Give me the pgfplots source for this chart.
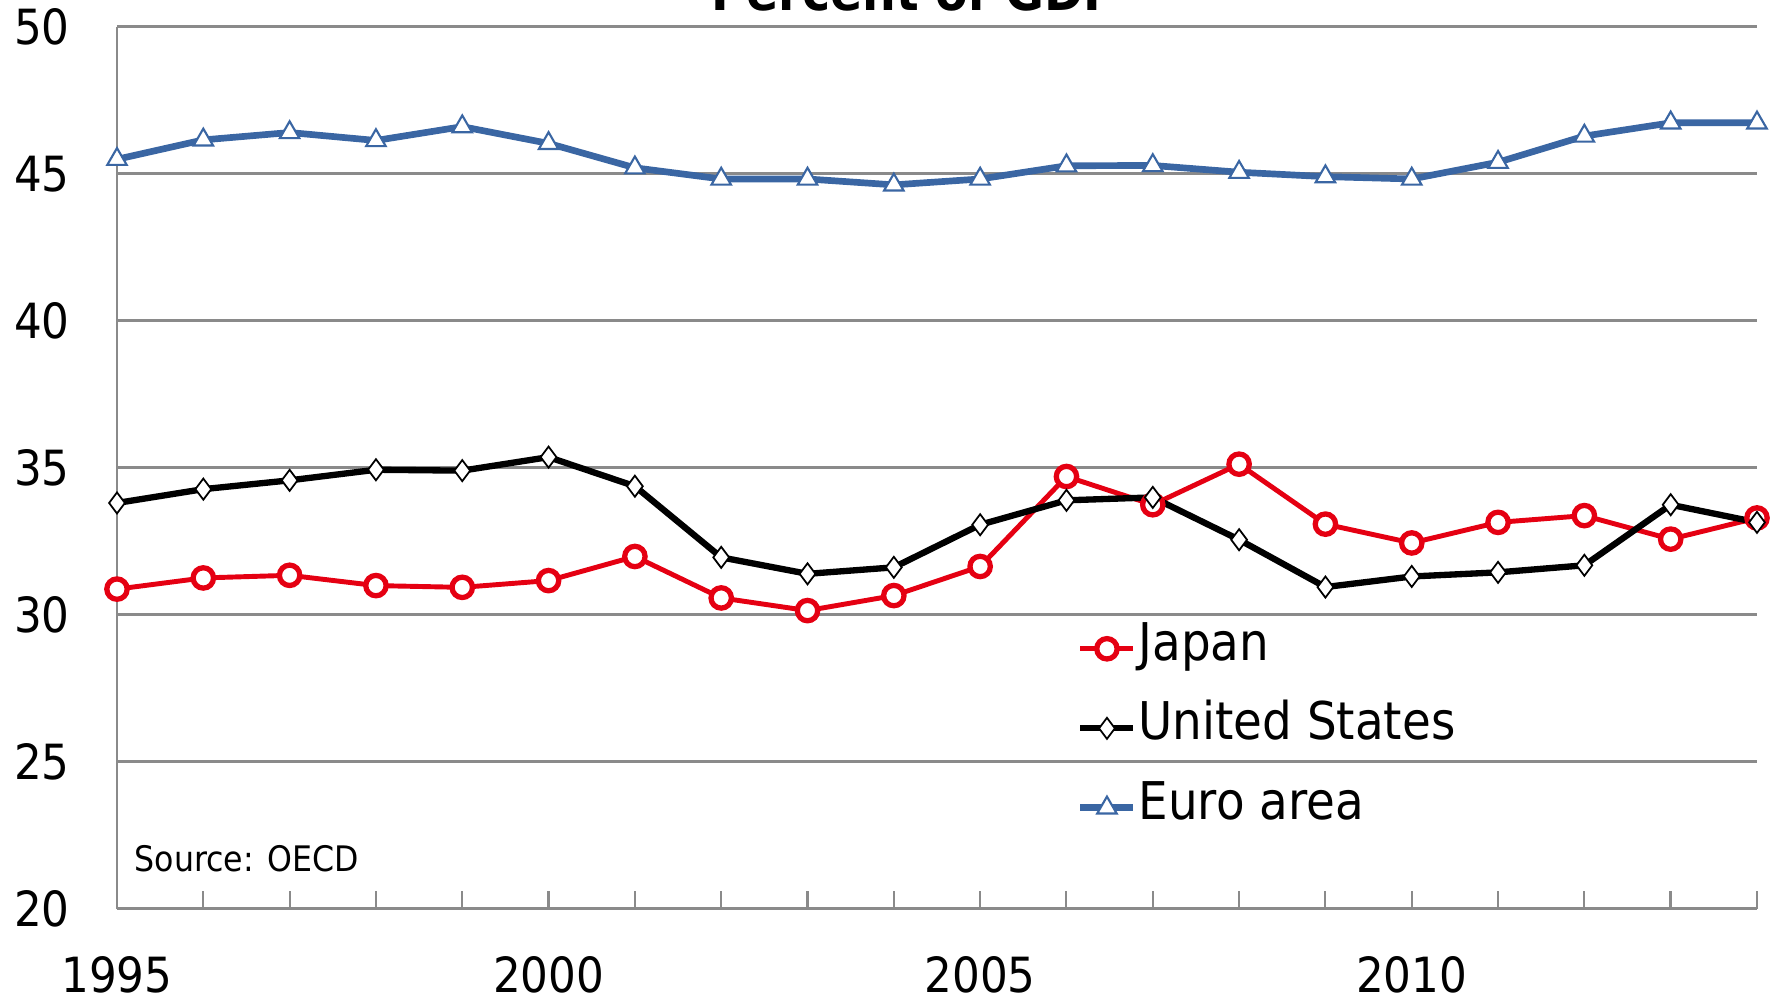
\documentclass[border=0pt]{standalone}
\usepackage{fontspec}
\setmainfont{DejaVu Sans}[FakeStretch=0.9]
\usepackage{pgfplots}
\pgfplotsset{compat=1.18}
\definecolor{eublue}{HTML}{3A66A3}
\definecolor{jpred}{HTML}{E50012}
\definecolor{gridgray}{HTML}{8A8A8A}

\begin{document}
\begin{tikzpicture}
\begin{axis}[
  name=ax,
  scale only axis, width=16.40cm, height=8.82cm,
  xmin=1995, xmax=2014, ymin=20, ymax=50,
  xtick={1995,2000,2005,2010},
  minor xtick={1995,...,2014},
  ytick={20,25,...,50},
  axis x line*=bottom, axis y line*=left,
  axis line style={draw=gridgray, line width=0.7pt},
  ymajorgrids, grid style={draw=gridgray, line width=0.7pt},
  tick align=inside,
  major tick length=0.18cm, minor tick length=0.18cm,
  xtick style={draw=gridgray, line width=0.6pt},
  ytick style={draw=none},
  tick label style={font=\fontsize{13.8}{16}\selectfont},
  /pgf/number format/assume math mode=true,
  xticklabel style={/pgf/number format/1000 sep={}, yshift=-0.35cm},
  yticklabel style={xshift=-0.35cm},
  clip=false,
  legend style={draw=none, fill=none, at={(0.585,0.3275)}, anchor=north west,
    font=\fontsize{14.8}{17}\selectfont, row sep=0.23cm, inner sep=0pt,
    nodes={text height=0.38cm, text depth=0.15cm, inner sep=0.5pt}},
  legend cell align=left,
  legend image code/.code={\draw[mark repeat=2, mark phase=2]
    plot coordinates {(0cm,0cm) (0.265cm,0cm) (0.53cm,0cm)};},
]
% Japan
\addplot[color=jpred, line width=1.4pt, mark=*,
  mark options={fill=white, draw=jpred, line width=1.5pt}, mark size=2.9pt]
coordinates {
(1995,30.87) (1996,31.25) (1997,31.34) (1998,30.99) (1999,30.93)
(2000,31.16) (2001,31.98) (2002,30.57) (2003,30.14) (2004,30.65)
(2005,31.64) (2006,34.70) (2007,33.74) (2008,35.12) (2009,33.08)
(2010,32.44) (2011,33.14) (2012,33.37) (2013,32.57) (2014,33.29)
};
\addlegendentry{Japan}
% United States
\addplot[color=black, line width=1.8pt, mark=diamond*,
  mark options={fill=white, draw=black, line width=0.5pt}, mark size=3pt]
coordinates {
(1995,33.80) (1996,34.27) (1997,34.57) (1998,34.93) (1999,34.90)
(2000,35.36) (2001,34.37) (2002,31.95) (2003,31.39) (2004,31.61)
(2005,33.06) (2006,33.89) (2007,33.99) (2008,32.55) (2009,30.94)
(2010,31.30) (2011,31.44) (2012,31.68) (2013,33.74) (2014,33.14)
};
\addlegendentry{United States}
% Euro area
\addplot[color=eublue, line width=1.9pt, mark=triangle*,
  mark options={fill=white, draw=eublue, line width=0.6pt}, mark size=3.2pt]
coordinates {
(1995,45.49) (1996,46.15) (1997,46.40) (1998,46.13) (1999,46.60)
(2000,46.03) (2001,45.20) (2002,44.82) (2003,44.82) (2004,44.62)
(2005,44.82) (2006,45.27) (2007,45.28) (2008,45.05) (2009,44.90)
(2010,44.82) (2011,45.39) (2012,46.28) (2013,46.73) (2014,46.73)
};
\addlegendentry{Euro area}
\node[anchor=west, inner sep=0pt, font=\fontsize{10}{12}\selectfont]
  at (axis description cs:0.0104,0.0567) {Source: OECD};
\end{axis}
\node[anchor=base, overlay, font=\bfseries\fontsize{15}{18}\selectfont]
  at ([xshift=7.98cm, yshift=0.157cm]ax.north west) {Percent of GDP};
\pgfresetboundingbox
\path[use as bounding box] ([xshift=-1.17cm, yshift=-0.94cm]ax.south west)
  rectangle ([xshift=0.20cm, yshift=0.267cm]ax.north east);
\end{tikzpicture}
\end{document}
